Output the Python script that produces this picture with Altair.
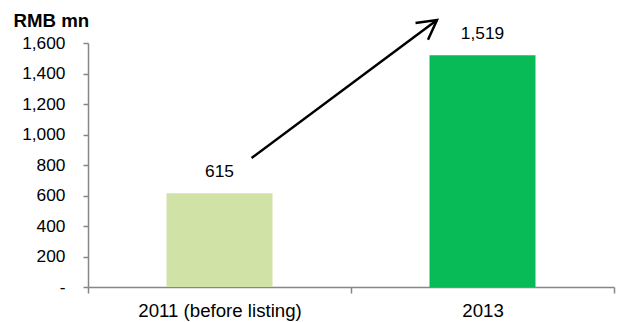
import math
import altair as alt
import pandas as pd

# ---- data ----
categories = ["2011 (before listing)", "2013"]
values = [615, 1519]
labels = ["615", "1,519"]
colors = ["#D1E2A7", "#09BB56"]
y_ticks = [0, 200, 400, 600, 800, 1000, 1200, 1400, 1600]

# growth arrow annotation (x: category units 0..2, y: RMB mn)
arrow_x = [0.622, 1.327]
arrow_y = [846, 1751]

W, H = 526, 244
Y_MAX = 1600
BAR_HALF = 0.2015          # half bar width, in category units
FONT = "Liberation Sans"

bars_df = pd.DataFrame({
    "cat": categories, "idx": list(range(len(categories))),
    "value": values, "label": labels, "color": colors,
})
arrow_df = pd.DataFrame({"pos": [arrow_x[0]], "value": [arrow_y[0]],
                         "pos2": [arrow_x[1]], "value2": [arrow_y[1]]})
head_df = pd.DataFrame({"pos": [arrow_x[1]], "value": [arrow_y[1]]})

# arrow head orientation in screen space
dx_px = (arrow_x[1] - arrow_x[0]) * W / len(categories)
dy_px = -(arrow_y[1] - arrow_y[0]) * H / Y_MAX
head_angle = math.degrees(math.atan2(dy_px, dx_px)) % 360

# x axis: ticks at category boundaries, labels at category centres
n = len(categories)
x_values = sorted([float(i) for i in range(n + 1)] + [i + 0.5 for i in range(n)])
label_expr = "".join(
    f"datum.value == {i + 0.5} ? '{c}' : " for i, c in enumerate(categories)
) + "''"

x_scale = alt.Scale(domain=[0, n], nice=False, zero=False, padding=0)
x_axis = alt.Axis(
    values=x_values, labelExpr=label_expr, labelOverlap=False, labelFlush=False,
    labelAngle=0, labelFont=FONT, labelFontSize=18.67, labelColor="#000000",
    domainColor="#868686", domainWidth=1.5, tickColor="#868686", tickWidth=1.5,
    tickOpacity={"condition": {"test": "datum.value % 1 == 0", "value": 1}, "value": 0},
    tickSize=6, labelPadding=8, grid=False, title=None, offset=0,
)
y_axis = alt.Axis(
    values=y_ticks, grid=False, labelOverlap=False, offset=0,
    labelExpr="datum.value == 0 ? '-\u00a0\u00a0' : format(datum.value, ',')",
    labelFont=FONT, labelFontSize=17.33, labelColor="#000000", labelPadding=18,
    domainColor="#868686", domainWidth=1.5, tickColor="#868686", tickWidth=1.5, tickSize=5,
    title="RMB mn", titleAngle=0, titleAlign="left", titleBaseline="alphabetic",
    titleX=-75, titleY=-17, titleFont=FONT, titleFontSize=18.67, titleFontWeight="bold",
    titleColor="#000000",
)
y_scale = alt.Scale(domain=[0, Y_MAX], nice=False, zero=True, padding=0)
y_enc = alt.Y("value:Q", scale=y_scale, axis=y_axis)

base = alt.Chart(bars_df).transform_calculate(
    pos="datum.idx + 0.5",
    left=f"datum.idx + 0.5 - {BAR_HALF}",
    right=f"datum.idx + 0.5 + {BAR_HALF}",
)
bars = base.mark_bar(orient="vertical").encode(
    x=alt.X("left:Q", scale=x_scale, axis=x_axis),
    x2="right:Q",
    y=y_enc,
    y2=alt.datum(0),
    color=alt.Color("color:N", scale=None),
)
text = base.mark_text(
    dy=-16, baseline="alphabetic", font=FONT, fontSize=17.33, color="#000000"
).encode(x=alt.X("pos:Q", scale=x_scale, axis=x_axis), y=y_enc, text="label:N")

arrow_line = alt.Chart(arrow_df).mark_rule(
    color="#000000", strokeWidth=2.5, clip=False
).encode(x=alt.X("pos:Q", scale=x_scale, axis=x_axis), x2="pos2:Q", y=y_enc, y2="value2:Q")
arrow_head = alt.Chart(head_df).mark_point(
    shape="M -1 -0.55 L 0 0 L -1 0.55", filled=False, stroke="#000000",
    strokeWidth=2.5, size=1444, angle=head_angle, opacity=1, clip=False,
).encode(x=alt.X("pos:Q", scale=x_scale, axis=x_axis), y=y_enc)

chart = (
    alt.layer(bars, text, arrow_line, arrow_head)
    .properties(
        width=W, height=H, autosize="none",
        padding={"left": 88, "top": 43, "right": 7, "bottom": 35},
        background="#ffffff",
    )
    .configure_view(strokeWidth=0, stroke="transparent")
)

chart.save("out.html", embed_options={"renderer": "svg", "actions": False})
